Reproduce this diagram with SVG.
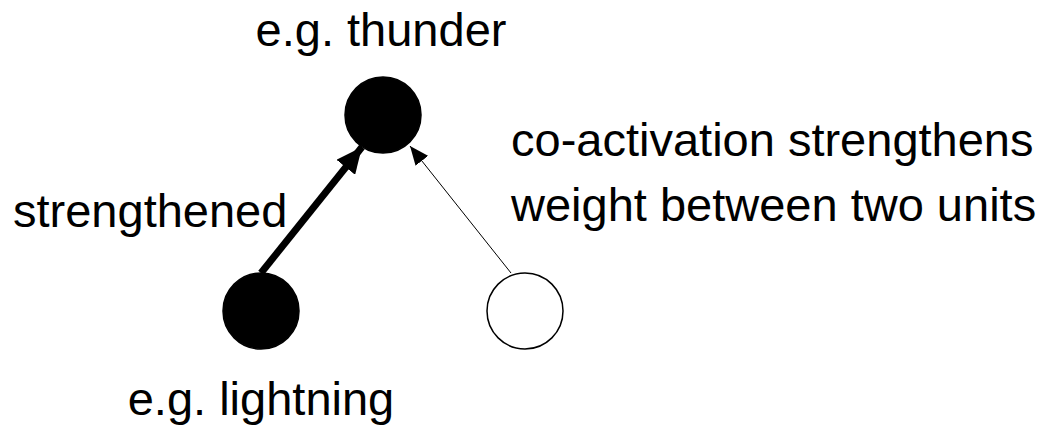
<svg xmlns="http://www.w3.org/2000/svg" width="1048" height="427" viewBox="0 0 1048 427">
<style>
text{font-family:"Liberation Sans",Arial,sans-serif;font-size:47px;fill:#000}
.filled{fill:#000;stroke:#000;stroke-width:1.5}
.empty{fill:#fff;stroke:#000;stroke-width:1.5}
</style>
<defs>
<marker id="headThick" markerUnits="userSpaceOnUse" viewBox="0 0 26 24" refX="26" refY="12" markerWidth="26" markerHeight="24" orient="auto">
<path d="M0,0 L26,12 L0,24 Z" fill="#000"/>
</marker>
<marker id="headThin" markerUnits="userSpaceOnUse" viewBox="0 0 19 16" refX="19" refY="8" markerWidth="19" markerHeight="16" orient="auto">
<path d="M0,0 L19,8 L0,16 Z" fill="#000"/>
</marker>
</defs>
<rect width="1048" height="427" fill="#fff"/>
<g id="connectors">
<line x1="261" y1="273" x2="362" y2="147" stroke="#000" stroke-width="7" marker-end="url(#headThick)"/>
<line x1="511" y1="273" x2="410" y2="146" stroke="#000" stroke-width="1" marker-end="url(#headThin)"/>
</g>
<g id="thunder">
<circle class="filled" cx="383" cy="115" r="38"/>
<text x="381" y="46" text-anchor="middle">e.g. thunder</text>
</g>
<g id="lightning">
<circle class="filled" cx="261" cy="311" r="38"/>
<text x="261" y="415" text-anchor="middle">e.g. lightning</text>
</g>
<g id="other">
<circle class="empty" cx="525" cy="311" r="38"/>
</g>
<g id="labels">
<text x="13" y="227">strengthened</text>
<text x="511" y="156">co-activation strengthens</text>
<text x="511" y="221">weight between two units</text>
</g>
</svg>
